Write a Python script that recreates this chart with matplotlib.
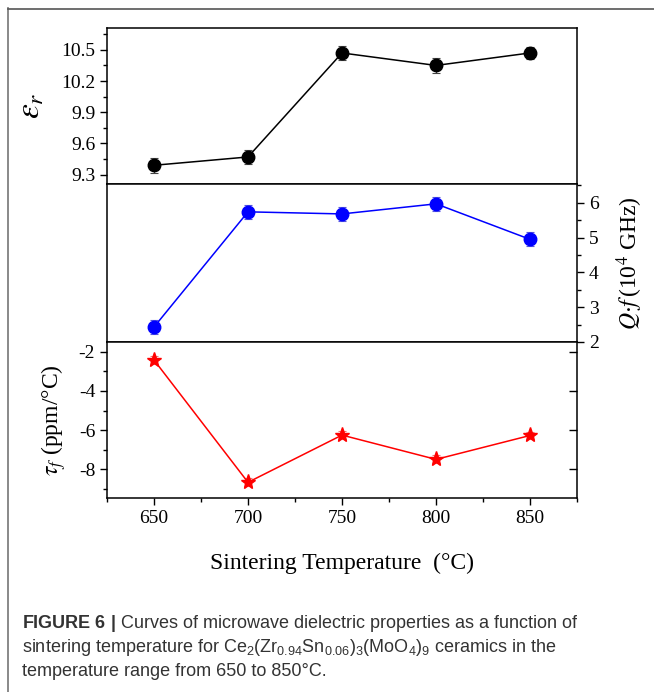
import matplotlib
matplotlib.use('Agg')
import matplotlib.pyplot as plt
from matplotlib.lines import Line2D
from matplotlib.ticker import MultipleLocator

plt.rcParams['font.family'] = ['Liberation Serif', 'DejaVu Serif']
plt.rcParams['mathtext.fontset'] = 'stix'
plt.rcParams['axes.unicode_minus'] = False
# used by the caption, which switches to the custom math font set
plt.rcParams['mathtext.rm'] = 'Liberation Sans'
plt.rcParams['mathtext.bf'] = 'Liberation Sans:bold'
plt.rcParams['mathtext.it'] = 'Liberation Sans:italic'

# sintering temperature (C)
temps = [650, 700, 750, 800, 850]
# dielectric constant
eps_r = [9.39, 9.47, 10.47, 10.35, 10.47]
eps_err = [0.07, 0.07, 0.07, 0.07, 0.06]
# quality factor, 10^4 GHz
qf = [2.43, 5.74, 5.68, 5.97, 4.95]
qf_err = [0.2, 0.2, 0.2, 0.2, 0.2]
# temperature coefficient of resonant frequency, ppm/C
tau_f = [-2.42, -8.66, -6.25, -7.49, -6.27]
tau_err = [0.2, 0.2, 0.2, 0.2, 0.2]

W, H = 654, 692
fig = plt.figure(figsize=(W / 100, H / 100), dpi=100)


def box(x0, y0, x1, y1):
    return [x0 / W, 1 - y1 / H, (x1 - x0) / W, (y1 - y0) / H]


ax1 = fig.add_axes(box(107, 28, 577, 184))
ax2 = fig.add_axes(box(107, 184, 577, 342), sharex=ax1)
ax3 = fig.add_axes(box(107, 342, 577, 498), sharex=ax1)

for ax in (ax1, ax2, ax3):
    for s in ax.spines.values():
        s.set_linewidth(1.1)
    ax.tick_params(which='both', width=1.0, labelsize=14, direction='out')
    ax.tick_params(which='major', length=5)
    ax.tick_params(which='minor', length=3)

# top: dielectric constant
ax1.errorbar(temps, eps_r, yerr=eps_err, color='black', lw=1.1, marker='o', ms=9,
             ecolor='#444444', elinewidth=0.8, capsize=3, capthick=0.8)
ax1.set_xlim(625, 875)
ax1.set_ylim(9.21, 10.71)
ax1.yaxis.set_major_locator(MultipleLocator(0.3))
ax1.yaxis.set_minor_locator(MultipleLocator(0.15))
ax1.tick_params(axis='x', which='both', bottom=False, labelbottom=False)
ax1.set_ylabel(r'$\varepsilon_r$', fontsize=24)
ax1.yaxis.set_label_coords(-0.128, 0.5)

# middle: Q*f on the right axis
ax2.errorbar(temps, qf, yerr=qf_err, color='#0000ff', lw=1.1, marker='o', ms=9,
             ecolor='#5555dd', elinewidth=0.8, capsize=3, capthick=0.8)
ax2.set_ylim(2.0, 6.54)
ax2.yaxis.set_major_locator(MultipleLocator(1))
ax2.yaxis.set_minor_locator(MultipleLocator(0.5))
ax2.yaxis.tick_right()
ax2.yaxis.set_label_position('right')
ax2.tick_params(axis='x', which='both', bottom=False, labelbottom=False)
ax2.set_ylabel(r'$Q{\cdot}f\,$(10$^4$ GHz)', fontsize=17, rotation=90)
ax2.yaxis.set_label_coords(1.08, 0.5)

# bottom: tau_f
ax3.errorbar(temps, tau_f, yerr=tau_err, color='#ff0000', lw=1.1, marker='*', ms=11,
             ecolor='#f07070', elinewidth=0.8, capsize=3, capthick=0.8)
ax3.set_ylim(-9.46, -1.5)
ax3.yaxis.set_major_locator(MultipleLocator(2))
ax3.yaxis.set_minor_locator(MultipleLocator(1))
ax3.xaxis.set_major_locator(MultipleLocator(50))
ax3.xaxis.set_minor_locator(MultipleLocator(25))
ax3.set_ylabel(r'$\tau_f$ (ppm/°C)', fontsize=17)
ax3.yaxis.set_label_coords(-0.083, 0.5)
ax3.set_xlabel('Sintering Temperature  (°C)', fontsize=17)
ax3.xaxis.set_label_coords(0.5, -0.35)

# inward major ticks on the right spine of the bottom panel
ax3r = ax3.twinx()
ax3r.set_ylim(ax3.get_ylim())
ax3r.yaxis.set_major_locator(MultipleLocator(2))
ax3r.tick_params(axis='y', direction='in', length=6, width=1.0, labelright=False)
for s in ax3r.spines.values():
    s.set_visible(False)

# panel frame
fig.add_artist(Line2D([7.5 / W, 7.5 / W], [1 - 8 / H, 0], transform=fig.transFigure,
                      color='#808080', lw=1.3))
fig.add_artist(Line2D([7.5 / W, 1], [1 - 8.5 / H, 1 - 8.5 / H], transform=fig.transFigure,
                      color='#555555', lw=1.2))

cap = dict(fontsize=13, family=['Liberation Sans', 'DejaVu Sans'], color='#333333',
           math_fontfamily='custom', va='center', ha='left')
fig.text(22 / W, 1 - 623 / H,
         r'$\mathbf{FIGURE\ 6\ |}$ Curves of microwave dielectric properties as a function of', **cap)
fig.text(22 / W, 1 - 648 / H,
         r'sintering temperature for Ce$_{2}$(Zr$_{0.94}$Sn$_{0.06}$)$_{3}$(MoO$_{4}$)$_{9}$ ceramics in the',
         **cap)
fig.text(22 / W, 1 - 672 / H, 'temperature range from 650 to 850°C.', **cap)

fig.savefig('out.png', dpi=100)
